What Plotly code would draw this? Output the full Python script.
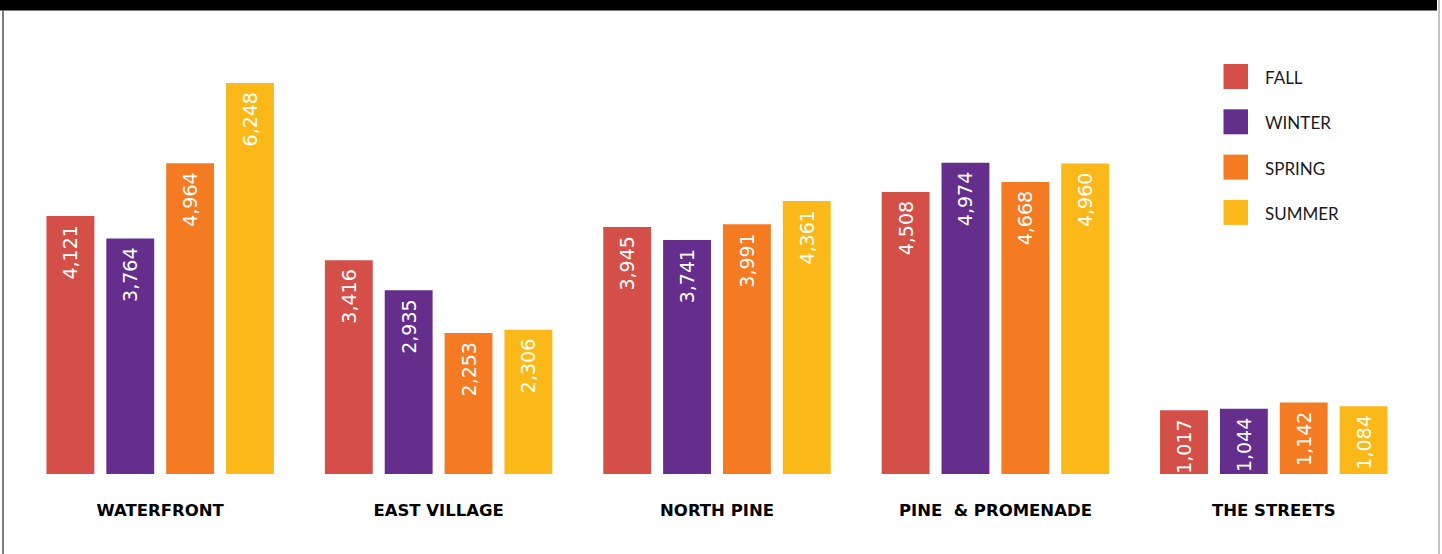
import plotly.graph_objects as go

neighborhoods = ["WATERFRONT", "EAST VILLAGE", "NORTH PINE", "PINE  & PROMENADE", "THE STREETS"]
seasons = ["FALL", "WINTER", "SPRING", "SUMMER"]
fall = [4121, 3416, 3945, 4508, 1017]
winter = [3764, 2935, 3741, 4974, 1044]
spring = [4964, 2253, 3991, 4668, 1142]
summer = [6248, 2306, 4361, 4960, 1084]
colors = ["#D54F49", "#652E8C", "#F47B22", "#FBB919"]

series = [fall, winter, spring, summer]

W, H = 1442, 554
ML, MR, MT, MB = 21, 29, 40, 80
PW, PH = W - ML - MR, H - MT - MB

def px(x):
    return (x - ML) / PW

def py(y):
    return 1 - (y - MT) / PH

fig = go.Figure()
for name, vals, col in zip(seasons, series, colors):
    fig.add_trace(go.Bar(
        x=neighborhoods, y=vals, name=name,
        marker=dict(color=col, line=dict(width=0)),
        text=[f"{v:,}" + "\u00a0" for v in vals],
        textposition="inside", insidetextanchor="end",
        textangle=-90, constraintext="none",
        textfont=dict(family="DejaVu Sans", size=19, color="white"),
        showlegend=False, hoverinfo="skip",
    ))

shapes = []
annotations = []
# legend built from series names/colours
for i, (name, col) in enumerate(zip(seasons, colors)):
    cy = 76.5 + i * 45.3
    shapes.append(dict(type="rect", xref="paper", yref="paper",
                       x0=px(1223.5), x1=px(1248), y0=py(cy - 12.5), y1=py(cy + 12.5),
                       fillcolor=col, line=dict(width=0)))
    annotations.append(dict(text=name, xref="paper", yref="paper",
                            x=px(1263), y=py(cy + 1), xanchor="left", yanchor="middle",
                            showarrow=False,
                            font=dict(family="Lato", size=17, color="#1a1a1a", weight=400)))

# frame: black top band and thin side lines
shapes.append(dict(type="rect", xref="paper", yref="paper",
                   x0=px(0), x1=px(1437), y0=py(0), y1=py(10.5),
                   fillcolor="black", line=dict(width=0), layer="above"))
shapes.append(dict(type="line", xref="paper", yref="paper",
                   x0=px(3), x1=px(3), y0=py(10), y1=py(554),
                   line=dict(color="#555555", width=1.5)))
shapes.append(dict(type="line", xref="paper", yref="paper",
                   x0=px(1439), x1=px(1439), y0=py(0), y1=py(554),
                   line=dict(color="#888888", width=1)))

fig.update_layout(
    width=W, height=H,
    margin=dict(l=ML, r=MR, t=MT, b=MB, pad=0),
    paper_bgcolor="white", plot_bgcolor="white",
    barmode="group", bargap=0.14, bargroupgap=0.2,
    shapes=shapes, annotations=annotations,
    showlegend=False,
    xaxis=dict(showgrid=False, zeroline=False, showline=False, ticks="",
               ticklabelstandoff=24,
               tickfont=dict(family="DejaVu Sans", size=16.5, color="black", weight="bold")),
    yaxis=dict(visible=False, range=[0, PH / (391 / 6248)]),
)

fig.write_html(
    "out.html",
    config={"displayModeBar": False},
    post_script="document.body.style.margin='0';document.body.style.overflow='hidden';",
)
